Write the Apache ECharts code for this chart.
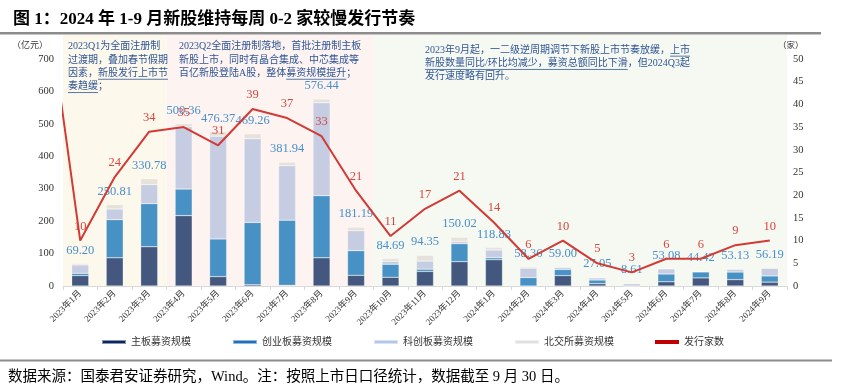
<!DOCTYPE html>
<html>
<head>
<meta charset="utf-8">
<script src="https://cdn.jsdelivr.net/npm/echarts@6/dist/echarts.min.js"></script>
<style>
html,body{margin:0;padding:0;background:#fff;}
#main{width:842px;height:391px;}
</style>
</head>
<body>
<div id="main"></div>
<script>
// 月份
var months = ['2023年1月','2023年2月','2023年3月','2023年4月','2023年5月','2023年6月','2023年7月','2023年8月','2023年9月','2023年10月','2023年11月','2023年12月',
              '2024年1月','2024年2月','2024年3月','2024年4月','2024年5月','2024年6月','2024年7月','2024年8月','2024年9月'];
// 募资规模（亿元）
var mainBoard = [32, 87, 121, 217, 29, 4, 2, 87, 33, 27, 45, 75, 81, 0, 32, 7, 0, 13, 25, 19.5, 12];
var gemBoard  = [7, 117.5, 133, 82, 116, 192, 201, 191.5, 76, 40, 7, 55.5, 6, 26, 19, 11.5, 0, 24, 18.5, 23.5, 19];
var starBoard = [26, 33, 58.5, 192, 317, 258, 168, 286.5, 61.5, 9, 25, 6.5, 24, 29, 6.5, 6.5, 7.3, 16, 0.9, 8.5, 23.5];
var bseBoard  = [4.2, 13.3, 18.3, 9.4, 14.4, 15.3, 10.9, 11.4, 10.7, 8.7, 17.4, 13.0, 7.8, 3.4, 1.5, 2.1, 1.3, 0.1, 0.1, 1.6, 1.7];
var totals    = ['69.20','250.81','330.78','500.36','476.37','469.26','381.94','576.44','181.19','84.69','94.35','150.02',
                 '118.83','58.36','59.00','27.05','8.61','53.08','44.42','53.13','56.19'];
// 发行家数
var counts = [10, 24, 34, 35, 31, 39, 37, 33, 21, 11, 17, 21, 14, 6, 10, 5, 3, 6, 6, 9, 10];
var prevCount = 65; // 2022年12月，在图左边界外，只露出一段线

var FONT = "'Liberation Serif','Noto Sans CJK SC',serif";
var NOTE_COLOR = '#2f5597';

var chart = echarts.init(document.getElementById('main'));

var lineData = [{value: [-1, prevCount], label: {show: false}}];
counts.forEach(function(v, i){ lineData.push([i, v]); });

function barSeries(name, data, color){
    return {
        name: name,
        type: 'bar',
        stack: 'total',
        barWidth: 17,
        data: data,
        itemStyle: {color: color, borderColor: 'rgba(255,255,255,0.5)', borderWidth: 0.5},
        emphasis: {disabled: true}
    };
}

var bse = barSeries('北交所募资规模', bseBoard, '#e6e2da');
bse.label = {
    show: true,
    position: 'top',
    distance: 7,
    color: '#4a8fcb',
    fontSize: 12.5,
    fontFamily: FONT,
    formatter: function(p){ return totals[p.dataIndex]; }
};

var option = {
    animation: false,
    title: {
        text: '图 1：2024 年 1-9 月新股维持每周 0-2 家较慢发行节奏',
        left: 8,
        top: 6,
        textStyle: {fontSize: 17, fontWeight: 'bold', color: '#000', fontFamily: FONT}
    },
    legend: {
        left: 101,
        top: 337,
        padding: 0,
        itemWidth: 24,
        itemHeight: 4,
        itemGap: 41,
        textStyle: {fontSize: 10, color: '#333', fontFamily: FONT},
        data: [
            {name: '主板募资规模', icon: 'rect', itemStyle: {color: '#0d2660'}},
            {name: '创业板募资规模', icon: 'rect', itemStyle: {color: '#1e6fc0'}},
            {name: '科创板募资规模', icon: 'rect', itemStyle: {color: '#b4c6e7'}},
            {name: '北交所募资规模', icon: 'rect', itemStyle: {color: '#e0e0e0'}},
            {name: '发行家数', icon: 'rect', itemStyle: {color: '#c00000'}}
        ]
    },
    grid: {left: 63, right: 55, top: 59, bottom: 105},
    xAxis: [{
        type: 'category',
        data: months,
        axisLine: {lineStyle: {color: '#d9d9d9'}},
        axisTick: {show: true, length: 4, lineStyle: {color: '#d9d9d9'}},
        axisLabel: {rotate: 45, fontSize: 9, color: '#333', fontFamily: FONT, margin: 6, interval: 0}
    }, {
        type: 'value',
        min: -0.5,
        max: 20.5,
        show: false
    }],
    yAxis: [{
        type: 'value',
        min: 0, max: 700, interval: 100,
        splitLine: {show: false},
        axisLine: {show: false},
        axisTick: {show: false},
        axisLabel: {fontSize: 10.5, color: '#333', fontFamily: FONT, margin: 9}
    }, {
        type: 'value',
        min: 0, max: 50, interval: 5,
        splitLine: {show: false},
        axisLine: {show: false},
        axisTick: {show: false},
        axisLabel: {fontSize: 10.5, color: '#333', fontFamily: FONT, margin: 6}
    }],
    series: [
        barSeries('主板募资规模', mainBoard, '#44587f'),
        barSeries('创业板募资规模', gemBoard, '#4791c5'),
        barSeries('科创板募资规模', starBoard, '#c6cce2'),
        bse,
        {
            name: '发行家数',
            type: 'line',
            xAxisIndex: 1,
            yAxisIndex: 1,
            data: lineData,
            clip: true,
            symbol: 'circle',
            symbolSize: 0,
            z: 5,
            lineStyle: {color: '#d13a35', width: 2},
            itemStyle: {color: '#d13a35'},
            label: {
                show: true,
                position: 'top',
                distance: 8,
                color: '#d9453f',
                fontSize: 12.5,
                fontFamily: FONT,
                formatter: function(p){ return p.value[1]; }
            },
            emphasis: {disabled: true}
        }
    ]
};
chart.setOption(option);

// 文字宽度，用于画下划线
var ctx = document.createElement('canvas').getContext('2d');
function tw(str, size){
    ctx.font = size + 'px ' + FONT;
    return ctx.measureText(str).width;
}

var notes = [
    {x: 68, y: 40, lines: ['2023Q1为全面注册制', '过渡期，叠加春节假期', '因素，新股发行上市节', '奏趋缓；'],
     under: [[2, '因素，', '新股发行上市节'], [3, '', '奏趋缓']]},
    {x: 179, y: 40, lines: ['2023Q2全面注册制落地，首批注册制主板', '新股上市，同时有晶合集成、中芯集成等', '百亿新股登陆A股，整体募资规模提升；'],
     under: [[2, '百亿新股登陆A股，整体', '募资规模提升']]},
    {x: 425, y: 43.5, lines: ['2023年9月起，一二级逆周期调节下新股上市节奏放缓，上市', '新股数量同比/环比均减少，募资总额同比下滑，但2024Q3起', '发行速度略有回升。'],
     under: [[0, '2023年9月起，一二级逆周期调节下新股上市节奏放缓，', '上市'], [1, '', '新股数量同比/环比均减少，募资总额同比下滑']]}
];
var NOTE_SIZE = 10, NOTE_LH = 13.3;

var xb = function(v){ return chart.convertToPixel({xAxisIndex: 1}, v); };
var y0 = chart.convertToPixel({yAxisIndex: 0}, 0);
var bandTop = 35;
var graphics = [
    {type: 'rect', z: -10, shape: {x: xb(-0.5), y: bandTop, width: xb(2.5) - xb(-0.5), height: y0 - bandTop}, style: {fill: '#fdf8ec'}},
    {type: 'rect', z: -10, shape: {x: xb(2.5), y: bandTop, width: xb(8.5) - xb(2.5), height: y0 - bandTop}, style: {fill: '#fdf4f1'}},
    {type: 'rect', z: -10, shape: {x: xb(8.5), y: bandTop, width: xb(20.5) - xb(8.5), height: y0 - bandTop}, style: {fill: '#f6f9f1'}},
    {type: 'rect', shape: {x: 0, y: 32, width: 821, height: 2.5}, style: {fill: '#8c8c8c'}},
    {type: 'rect', shape: {x: 0, y: 359.5, width: 832, height: 2}, style: {fill: '#8c8c8c'}},
    {type: 'text', style: {x: 12, y: 46, text: '（亿元）', fontSize: 9, fontFamily: FONT, fill: '#333', verticalAlign: 'middle'}},
    {type: 'text', style: {x: 778, y: 46, text: '（家）', fontSize: 8.5, fontFamily: FONT, fill: '#333', verticalAlign: 'middle'}},
    {type: 'text', style: {x: 8, y: 377, text: '数据来源：国泰君安证券研究，Wind。注：按照上市日口径统计，数据截至 9 月 30 日。', fontSize: 14.5, fontFamily: FONT, fill: '#000', verticalAlign: 'middle'}}
];

notes.forEach(function(n){
    graphics.push({
        type: 'text', z: 10,
        style: {x: n.x, y: n.y, text: n.lines.join('\n'), fontSize: NOTE_SIZE, fontFamily: FONT, fill: NOTE_COLOR, lineHeight: NOTE_LH, verticalAlign: 'top'}
    });
    n.under.forEach(function(u){
        var ly = n.y + NOTE_LH / 2 + u[0] * NOTE_LH + 6;
        var x1 = n.x + tw(u[1], NOTE_SIZE);
        var x2 = x1 + tw(u[2], NOTE_SIZE);
        graphics.push({type: 'line', z: 10, shape: {x1: x1, y1: ly, x2: x2, y2: ly}, style: {stroke: NOTE_COLOR, lineWidth: 0.8}});
    });
});

chart.setOption({graphic: graphics});
</script>
</body>
</html>
